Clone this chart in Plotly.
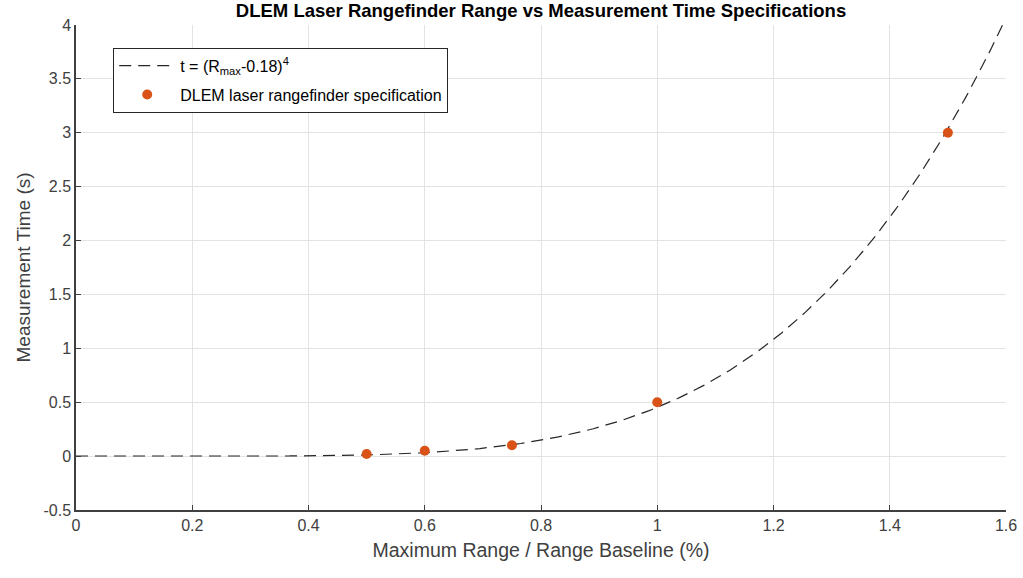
import numpy as np
import plotly.graph_objects as go

# Specification points
spec_range = [0.5, 0.6, 0.75, 1.0, 1.5]
spec_time = [0.02, 0.05, 0.1, 0.5, 3.0]

# Model curve t = (Rmax - 0.18)^4 (formula given in the legend)
offset = 0.18
power = 4
r_model = np.linspace(0, 1.6, 321)
t_model = (r_model - offset) ** power

x_ticks = [0, 0.2, 0.4, 0.6, 0.8, 1.0, 1.2, 1.4, 1.6]
x_tick_text = ["0", "0.2", "0.4", "0.6", "0.8", "1", "1.2", "1.4", "1.6"]
y_ticks = [-0.5, 0, 0.5, 1, 1.5, 2, 2.5, 3, 3.5, 4]
y_tick_text = ["-0.5", "0", "0.5", "1", "1.5", "2", "2.5", "3", "3.5", "4"]

FONT = "Liberation Sans, Arial, Helvetica"

fig = go.Figure()
fig.add_trace(go.Scatter(
    x=r_model, y=t_model, mode="lines",
    name="t = (R<sub>max</sub>-0.18)<sup>4</sup>",
    legendgroup="a",
    line=dict(color="#262626", width=1.2, dash="12px,7px"),
))
fig.add_trace(go.Scatter(
    x=spec_range, y=spec_time, mode="markers",
    name="DLEM laser rangefinder specification",
    legendgroup="b",
    marker=dict(color="#D95319", size=10, line=dict(width=0)),
))

axis_common = dict(
    showgrid=True, gridcolor="#e3e3e3", gridwidth=1,
    showline=True, linecolor="#404040", linewidth=1.5,
    ticks="inside", ticklen=5, tickcolor="#404040",
    tickfont=dict(family=FONT, size=16, color="#404040"),
    zeroline=False, mirror=False, automargin=False,
)

fig.update_layout(
    width=1023, height=578,
    margin=dict(l=76, r=17, t=25, b=68),
    paper_bgcolor="white", plot_bgcolor="white",
    title=dict(
        text="<b>DLEM Laser Rangefinder Range vs Measurement Time Specifications</b>",
        x=0.5, xanchor="center", xref="paper", y=0.982, yanchor="middle",
        font=dict(family=FONT, size=18.5, color="black"),
    ),
    xaxis=dict(
        range=[0, 1.6], tickvals=x_ticks, ticktext=x_tick_text,
        title=dict(text="Maximum Range / Range Baseline (%)",
                   font=dict(family=FONT, size=19.5, color="#404040"),
                   standoff=10),
        **axis_common,
    ),
    yaxis=dict(
        range=[-0.5, 4], tickvals=y_ticks, ticktext=y_tick_text,
        title=dict(text="Measurement Time (s)",
                   font=dict(family=FONT, size=19, color="#404040"),
                   standoff=8),
        **axis_common,
    ),
    legend=dict(
        x=0.04, y=0.953, xanchor="left", yanchor="top",
        bgcolor="white", bordercolor="#262626", borderwidth=1,
        font=dict(family=FONT, size=16, color="black"),
        tracegroupgap=5, itemwidth=56,
    ),
    showlegend=True,
)

fig.write_html("out.html")
